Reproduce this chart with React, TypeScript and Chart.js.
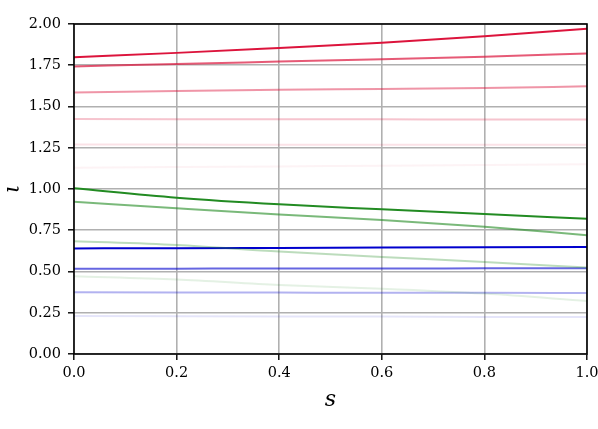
import React, { useEffect, useRef } from "react";
import { Chart, registerables } from "chart.js";

Chart.register(...registerables);

const sValues = [0, 0.2, 0.4, 0.6, 0.8, 1.0];

const red1 = [1.798, 1.825, 1.855, 1.886, 1.926, 1.971];
const red2 = [1.743, 1.758, 1.772, 1.786, 1.802, 1.821];
const red3 = [1.585, 1.594, 1.601, 1.606, 1.612, 1.622];
const red4 = [1.424, 1.423, 1.422, 1.422, 1.421, 1.421];
const red5 = [1.269, 1.269, 1.268, 1.268, 1.268, 1.268];
const red6 = [1.129, 1.133, 1.137, 1.141, 1.145, 1.15];

const green1 = [1.004, 0.947, 0.907, 0.877, 0.848, 0.82];
const green2 = [0.923, 0.883, 0.845, 0.812, 0.771, 0.72];
const green3 = [0.684, 0.66, 0.621, 0.588, 0.558, 0.524];
const green4 = [0.471, 0.451, 0.418, 0.396, 0.366, 0.321];

const blue1 = [0.64, 0.641, 0.643, 0.645, 0.647, 0.649];
const blue2 = [0.516, 0.517, 0.518, 0.518, 0.519, 0.52];
const blue3 = [0.374, 0.373, 0.372, 0.371, 0.371, 0.37];
const blue4 = [0.23, 0.229, 0.228, 0.227, 0.225, 0.224];

const yTicks = [0, 0.25, 0.5, 0.75, 1.0, 1.25, 1.5, 1.75, 2.0];
const xTicks = [0, 0.2, 0.4, 0.6, 0.8, 1.0];

const RED = "220,20,60";
const GREEN = "34,139,34";
const BLUE = "0,0,205";

const series: [number[], string, number][] = [
  [red1, RED, 1],
  [red2, RED, 0.7],
  [red3, RED, 0.45],
  [red4, RED, 0.25],
  [red5, RED, 0.12],
  [red6, RED, 0.05],
  [green1, GREEN, 1],
  [green2, GREEN, 0.6],
  [green3, GREEN, 0.3],
  [green4, GREEN, 0.12],
  [blue1, BLUE, 1],
  [blue2, BLUE, 0.6],
  [blue3, BLUE, 0.3],
  [blue4, BLUE, 0.1],
];

const framePlugin = {
  id: "frame",
  afterDatasetsDraw(chart: any) {
    const { ctx, chartArea } = chart;
    ctx.save();
    ctx.strokeStyle = "#000";
    ctx.lineWidth = 1.6;
    ctx.strokeRect(chartArea.left, chartArea.top, chartArea.right - chartArea.left, chartArea.bottom - chartArea.top);
    ctx.restore();
  },
};

export default function App() {
  const ref = useRef<HTMLCanvasElement>(null);
  useEffect(() => {
    if (!ref.current) return;
    const chart = new Chart(ref.current, {
      type: "line",
      data: {
        datasets: series.map(([vals, rgb, a]) => ({
          data: sValues.map((s, i) => ({ x: s, y: vals[i] })),
          borderColor: `rgba(${rgb},${a})`,
          borderWidth: 2,
          pointRadius: 0,
          fill: false,
          cubicInterpolationMode: "monotone" as const,
        })),
      },
      options: {
        animation: false,
        responsive: false,
        maintainAspectRatio: false,
        layout: { padding: { top: 24, right: 11, left: 0, bottom: 0 } },
        plugins: { legend: { display: false }, tooltip: { enabled: false } },
        scales: {
          x: {
            type: "linear",
            min: 0,
            max: 1,
            afterBuildTicks: (axis: any) => {
              axis.ticks = xTicks.map((v) => ({ value: v }));
            },
            afterFit: (axis: any) => {
              axis.height = 75;
              axis.paddingLeft = 0;
              axis.paddingRight = 0;
            },
            grid: { color: "#b0b0b0", lineWidth: 1.6, tickColor: "#000", tickLength: 6, tickWidth: 1.4 },
            border: { display: false },
            ticks: {
              padding: 5,
              color: "#000",
              font: { family: "DejaVu Serif", size: 14.5 },
              callback: (v: any) => Number(v).toFixed(1),
            },
            title: {
              display: true,
              text: "s",
              color: "#000",
              font: { family: "DejaVu Serif", size: 22, style: "italic" },
              padding: { top: 0, bottom: 16 },
            },
          },
          y: {
            type: "linear",
            min: 0,
            max: 2,
            afterBuildTicks: (axis: any) => {
              axis.ticks = yTicks.map((v) => ({ value: v }));
            },
            afterFit: (axis: any) => {
              axis.width = 74;
              axis.paddingTop = 0;
              axis.paddingBottom = 0;
            },
            grid: { color: "#b0b0b0", lineWidth: 1.6, tickColor: "#000", tickLength: 6, tickWidth: 1.4 },
            border: { display: false },
            ticks: {
              padding: 7,
              color: "#000",
              font: { family: "DejaVu Serif", size: 14.5 },
              callback: (v: any) => Number(v).toFixed(2),
            },
            title: {
              display: true,
              text: "ι",
              color: "#000",
              font: { family: "DejaVu Serif", size: 22, style: "italic" },
              padding: { top: 0, bottom: 0 },
            },
          },
        },
      },
      plugins: [framePlugin],
    });
    return () => chart.destroy();
  }, []);
  return (
    <div style={{ position: "fixed", left: 0, top: 0, width: 598, height: 429, background: "#fff" }}>
      <canvas ref={ref} width={598} height={429} style={{ width: 598, height: 429, display: "block" }} />
    </div>
  );
}
